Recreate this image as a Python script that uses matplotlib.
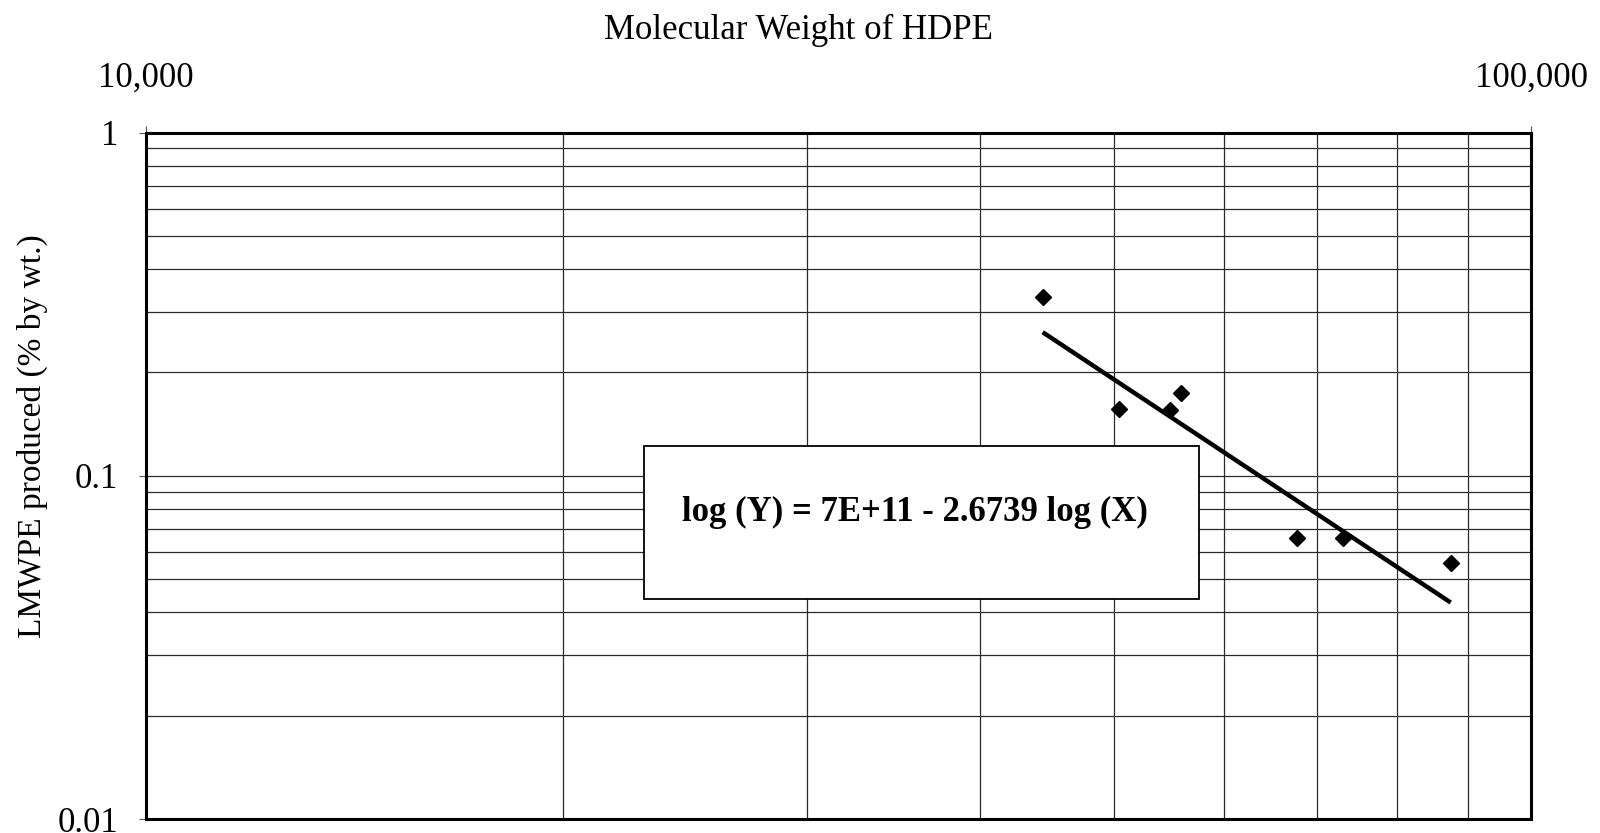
import numpy as np
import matplotlib
matplotlib.use('Agg')
import matplotlib.pyplot as plt
from matplotlib.ticker import FixedLocator, LogLocator, NullFormatter
from matplotlib.patches import Rectangle

plt.rcParams['font.family'] = ['Liberation Serif', 'DejaVu Serif']

# data
MolWeight = [44400, 50400, 54900, 55900, 67800, 73200, 87500]
LmwpeWt = [0.332, 0.157, 0.156, 0.174, 0.066, 0.066, 0.0557]

# trendline  log(Y) = 7E+11 - 2.6739 log(X)  (i.e. Y = 7e11 * X^-2.6739)
FitCoef = 7e11
FitSlope = -2.6739
FitLabel = "log (Y) = 7E+11 - 2.6739 log (X)"

XTicks = [1e4, 1e5]
XTickLabels = ["10,000", "100,000"]
YTicks = [0.01, 0.1, 1]
YTickLabels = ["0.01", "0.1", "1"]


def PlotChart():
  fig = plt.figure(figsize=(16, 8.33), dpi=100, facecolor='w')
  ax = fig.add_axes([0.0913, 0.0168, 0.8656, 0.824])

  ax.set_xscale('log')
  ax.set_yscale('log')
  ax.set_xlim(1e4, 1e5)
  ax.set_ylim(0.01, 1)

  # fit line over data range
  xf = np.array([min(MolWeight), max(MolWeight)])
  yf = FitCoef * xf ** FitSlope
  ax.plot(xf, yf, color='black', lw=3.2, solid_capstyle='butt', zorder=3)

  ax.plot(MolWeight, LmwpeWt, linestyle='none', marker='D', ms=8,
          color='black', zorder=4)

  # ticks and grid
  ax.xaxis.set_major_locator(FixedLocator(XTicks))
  ax.xaxis.set_ticklabels(XTickLabels)
  ax.xaxis.set_minor_locator(LogLocator(base=10, subs=np.arange(2, 10)))
  ax.xaxis.set_minor_formatter(NullFormatter())
  ax.yaxis.set_major_locator(FixedLocator(YTicks))
  ax.yaxis.set_ticklabels(YTickLabels)
  ax.yaxis.set_minor_locator(LogLocator(base=10, subs=np.arange(2, 10)))
  ax.yaxis.set_minor_formatter(NullFormatter())

  ax.xaxis.tick_top()
  ax.tick_params(axis='x', which='major', labelsize=25, length=5, pad=22, color='#555555')
  ax.tick_params(axis='y', which='major', labelsize=25, length=5, pad=15, color='#555555')
  ax.tick_params(which='minor', length=0)

  ax.grid(which='both', color='#2a2a2a', lw=0.9, zorder=1)
  ax.set_axisbelow(True)

  for sp in ax.spines.values():
    sp.set_linewidth(2.2)
    sp.set_color('black')

  # equation box
  box = Rectangle((0.3596, 0.3205), 0.4007, 0.2229, transform=ax.transAxes,
                  facecolor='white', edgecolor='black', lw=1.3, zorder=2)
  ax.add_patch(box)
  ax.text(0.555, 0.446, FitLabel, transform=ax.transAxes, ha='center',
          va='center', fontsize=25, fontweight='bold', zorder=5)

  fig.text(0.499, 0.964, "Molecular Weight of HDPE", ha='center',
           va='center', fontsize=25)
  fig.text(0.0205, 0.477, "LMWPE produced (% by wt.)", ha='center',
           va='center', rotation=90, fontsize=24)

  fig.savefig('out.png', dpi=100)


if __name__ == "__main__":
  PlotChart()
